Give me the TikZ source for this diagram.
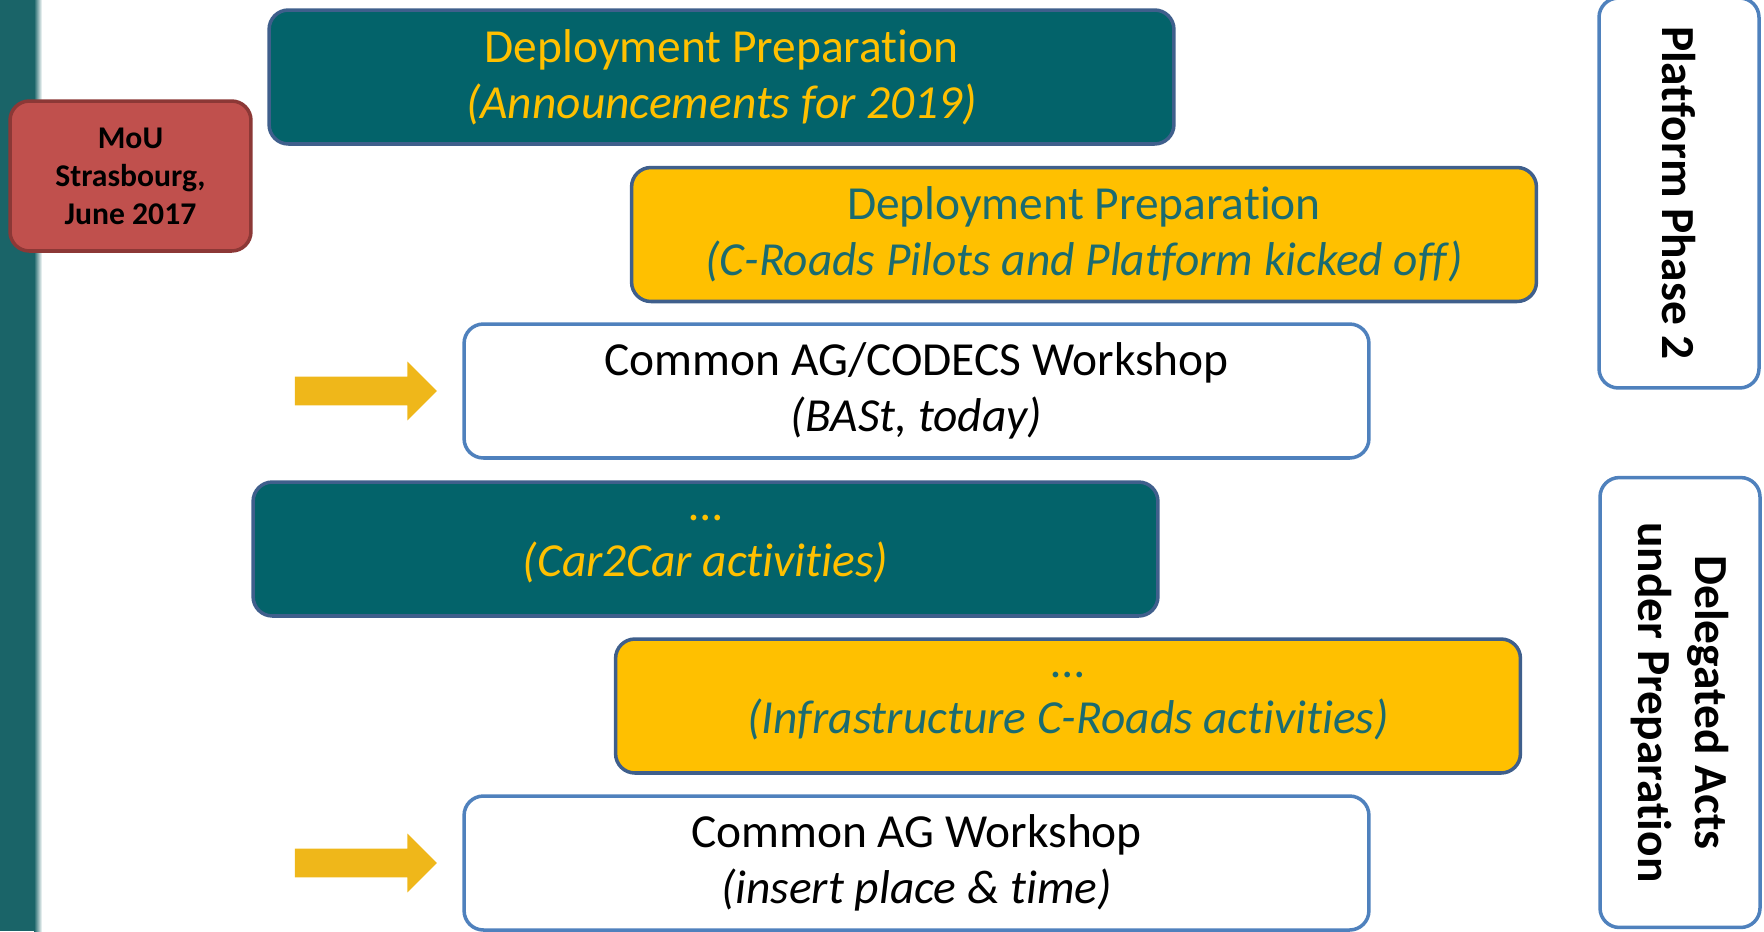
\documentclass[tikz,border=0pt]{standalone}
\usepackage{fontspec}
\setmainfont{Carlito}[RawFeature={-liga;-clig;-calt;-dlig}]
\usepackage{xcolor}
\usetikzlibrary{shapes.arrows, positioning}

\definecolor{barteal}{HTML}{1A6468}
\definecolor{tealfill}{HTML}{03636A}
\definecolor{goldfill}{HTML}{FFC000}
\definecolor{tealtext}{HTML}{1B6B70}
\definecolor{darkline}{HTML}{3F5F8C}
\definecolor{blueline}{HTML}{4F81BD}
\definecolor{moured}{HTML}{C0504D}
\definecolor{mouline}{HTML}{8C3836}
\definecolor{arrowgold}{HTML}{EFB71A}

\begin{document}
\begin{tikzpicture}[
    x=0.02cm, y=-0.02cm,
    box/.style={rectangle, draw, rounded corners=11pt, minimum width=18.1cm, minimum height=2.68cm, align=center, font=\fontsize{27}{32}\selectfont, line width=2pt},
    sidebox/.style={rectangle, draw=blueline, rounded corners=11pt, rotate=-90, align=center, minimum height=3.2cm, font=\fontsize{27}{32}\selectfont\bfseries, line width=2pt},
    blockarrow/.style={single arrow, fill=arrowgold, draw=none, minimum height=2.84cm, minimum width=1.16cm, inner xsep=0pt, inner ysep=0.28cm, single arrow head extend=0.3cm, single arrow tip angle=90}
]

\useasboundingbox (0,0) rectangle (1764,931);

% ==================== LEFT BAR ====================
\fill[barteal] (0,0) rectangle (34,931);
\shade[left color=barteal, right color=white] (34,0) rectangle (42,931);

% ==================== MOU ====================
\node[rectangle, draw=mouline, fill=moured, rounded corners=11pt, line width=2pt, minimum width=4.82cm, minimum height=3cm, align=center, font=\fontsize{18}{21.6}\selectfont\bfseries] (mou) at (130.5,176) {MoU\\Strasbourg,\\June 2017};

% ==================== TIMELINE BOXES ====================
\node[box, fill=tealfill, draw=darkline, text=goldfill] (prep1) at (721.5,77) {Deployment Preparation\\\textit{(Announcements for 2019)}};
\node[box, fill=goldfill, draw=darkline, text=tealtext] (prep2) at (1084,234.5) {Deployment Preparation\\\textit{(C-Roads Pilots and Platform kicked off)}};
\node[box, fill=white, draw=blueline] (ws1) at (916.5,391) {Common AG/CODECS Workshop\\\textit{(BASt, today)}};
\node[box, fill=tealfill, draw=darkline, text=goldfill] (car) at (705.5,549) {…\\\textit{(Car2Car activities)}};
\node[box, fill=goldfill, draw=darkline, text=tealtext] (infra) at (1068,706) {…\\\textit{(Infrastructure C-Roads activities)}};
\node[box, fill=white, draw=blueline] (ws2) at (916.5,863) {Common AG Workshop\\\textit{(insert place \& time)}};

% Arrows pointing at the workshops
\node[blockarrow, left=0.5cm of ws1] (arrow1) {};
\node[blockarrow, left=0.5cm of ws2] (arrow2) {};

% ==================== PHASES (Right) ====================
\node[sidebox, minimum width=7.8cm] (phase) at (1679,193) {Platform Phase 2};
\node[sidebox, minimum width=9.0cm] (acts) at (1680,702.5) {Delegated Acts\\under Preparation};

\end{tikzpicture}
\end{document}
